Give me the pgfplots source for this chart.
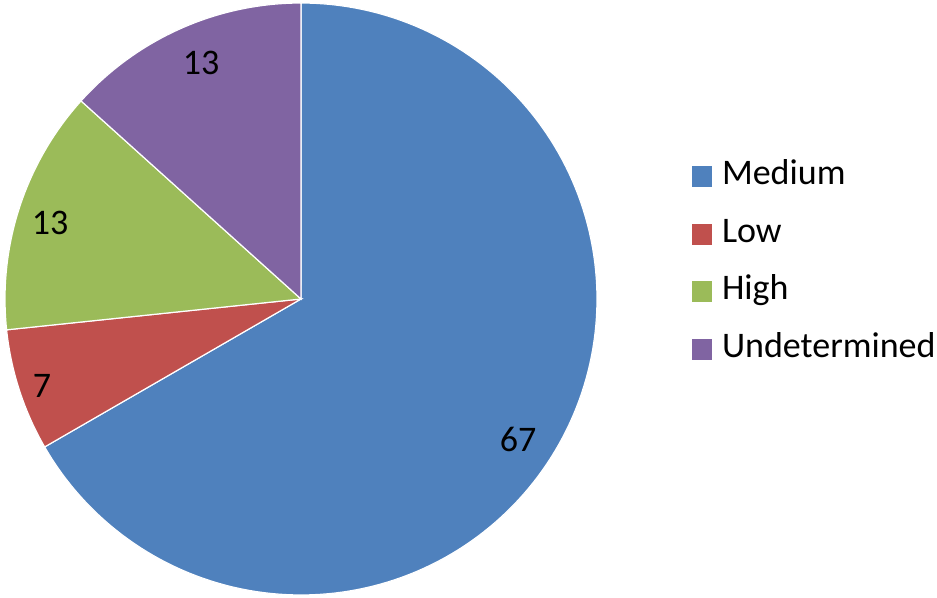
\documentclass[border=0pt]{standalone}
\usepackage{pgfplots}
\pgfplotsset{compat=1.18}
\usepackage{fontspec}
\setmainfont{Carlito}
\definecolor{cMed}{HTML}{4F81BD}
\definecolor{cLow}{HTML}{C0504D}
\definecolor{cHigh}{HTML}{9BBB59}
\definecolor{cUnd}{HTML}{8064A2}
% shares (percent) of the four categories
\def\vMed{66.67}\def\vLow{6.67}\def\vHigh{13.33}\def\vUnd{13.33}
\pgfmathsetmacro\tot{\vMed+\vLow+\vHigh+\vUnd}
\pgfmathsetmacro\aA{90}
\pgfmathsetmacro\aB{\aA-360*(\vMed/\tot)}
\pgfmathsetmacro\aC{\aB-360*(\vLow/\tot)}
\pgfmathsetmacro\aD{\aC-360*(\vHigh/\tot)}
\pgfmathsetmacro\aE{\aD-360*(\vUnd/\tot)}
\newcommand{\lblfont}{\fontsize{18}{21}\selectfont}
\begin{document}
\begin{tikzpicture}
\begin{axis}[
  width=468.5pt, height=299pt, scale only axis, hide axis,
  xmin=0, xmax=937, ymin=0, ymax=598, clip=false,
  legend image code/.code={\fill[#1,draw=none] (0pt,-5.25pt) rectangle (10pt,5.25pt);},
  legend cell align=left,
  legend style={draw=none, fill=none, at={(axis cs:692,335)}, anchor=west,
    inner sep=0pt, outer sep=0pt, row sep=12.9pt, column sep=5pt,
    font=\lblfont,
    nodes={inner sep=0pt, text height=12pt, text depth=4pt}},
]
\addplot[fill=cMed, draw=white, line width=0.6pt, domain=\aB:\aA, samples=160]
  ({301+296*cos(x)},{299+296*sin(x)}) -- (301,299) -- cycle;
\addlegendentry{Medium}
\addplot[fill=cLow, draw=white, line width=0.6pt, domain=\aC:\aB, samples=30]
  ({301+296*cos(x)},{299+296*sin(x)}) -- (301,299) -- cycle;
\addlegendentry{Low}
\addplot[fill=cHigh, draw=white, line width=0.6pt, domain=\aD:\aC, samples=40]
  ({301+296*cos(x)},{299+296*sin(x)}) -- (301,299) -- cycle;
\addlegendentry{High}
\addplot[fill=cUnd, draw=white, line width=0.6pt, domain=\aE:\aD, samples=40]
  ({301+296*cos(x)},{299+296*sin(x)}) -- (301,299) -- cycle;
\addlegendentry{Undetermined}
\node[font=\lblfont] at (axis cs:518,159) {67};
\node[font=\lblfont] at (axis cs:42,212) {7};
\node[font=\lblfont] at (axis cs:50,375) {13};
\node[font=\lblfont] at (axis cs:201,535.5) {13};
\end{axis}
\pgfresetboundingbox
\path[use as bounding box] (current axis.south west) rectangle (current axis.north east);
\end{tikzpicture}
\end{document}
